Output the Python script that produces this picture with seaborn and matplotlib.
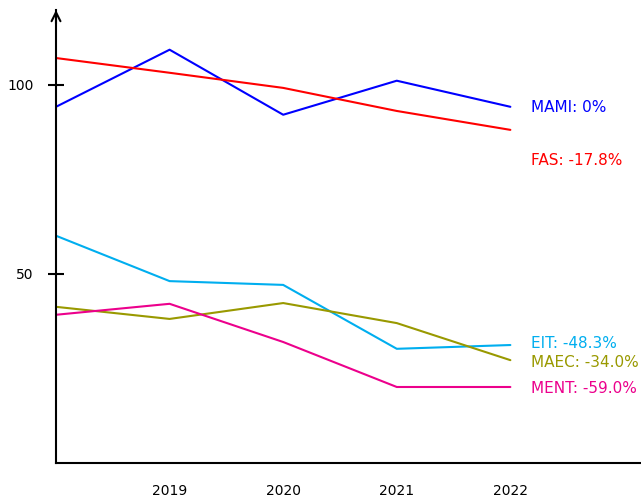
import matplotlib
matplotlib.use("Agg")
import matplotlib.pyplot as plt
import pandas as pd
import seaborn as sns

sns.set_theme(style="white")
plt.rcParams["font.family"] = ["DejaVu Sans"]

years = [2018, 2019, 2020, 2021, 2022]
series = ["MAMI", "FAS", "EIT", "MAEC", "MENT"]
mami = [94.2, 109.3, 92.1, 101.1, 94.2]
fas = [107.1, 103.2, 99.2, 93.1, 88.1]
eit = [60.1, 48.1, 47.1, 30.2, 31.2]
maec = [41.3, 38.1, 42.3, 37.0, 27.2]
ment = [39.2, 42.1, 32.0, 20.1, 20.1]
changes = ["0%", "-17.8%", "-48.3%", "-34.0%", "-59.0%"]
colors = ["#0000ff", "#ff0000", "#00aeef", "#999900", "#ec008c"]
# where each end label sits (slightly nudged apart)
label_y = [93.9, 79.9, 31.7, 26.7, 19.8]

values = dict(zip(series, [mami, fas, eit, maec, ment]))
df = pd.DataFrame(
    [(y, s, v) for s in series for y, v in zip(years, values[s])],
    columns=["year", "series", "value"],
)

fig = plt.figure(figsize=(6.41, 4.96), dpi=100)
ax = fig.add_axes([56 / 641, 1 - 463 / 496, 1 - 56 / 641, (463 - 10) / 496])
sns.lineplot(data=df, x="year", y="value", hue="series", palette=dict(zip(series, colors)),
             linewidth=1.5, legend=False, ax=ax)

ax.set_xlim(2018, 2023.15)
ax.set_ylim(0, 119.8)
ax.set_xticks(years[1:])
ax.set_yticks([50, 100])
ax.set_xlabel("")
ax.set_ylabel("")
for side in ("top", "right"):
    ax.spines[side].set_visible(False)
for side in ("left", "bottom"):
    ax.spines[side].set_color("black")
    ax.spines[side].set_linewidth(1.5)
ax.tick_params(axis="x", length=0, pad=15, labelsize=10, colors="black")
ax.tick_params(axis="y", direction="inout", length=12, width=1.5, pad=10,
               labelsize=10, colors="black", left=True)
ax.annotate("", xy=(0, 1.0), xycoords="axes fraction", xytext=(0, 0.97),
            arrowprops=dict(arrowstyle="->", color="black", lw=1.5,
                            mutation_scale=16, shrinkA=0, shrinkB=0))

for s, c, txt, ly in zip(series, colors, changes, label_y):
    ax.text(2022.185, ly, f"{s}: {txt}", color=c, fontsize=11, va="center", ha="left",
            clip_on=False)

fig.savefig("out.png", dpi=100)
